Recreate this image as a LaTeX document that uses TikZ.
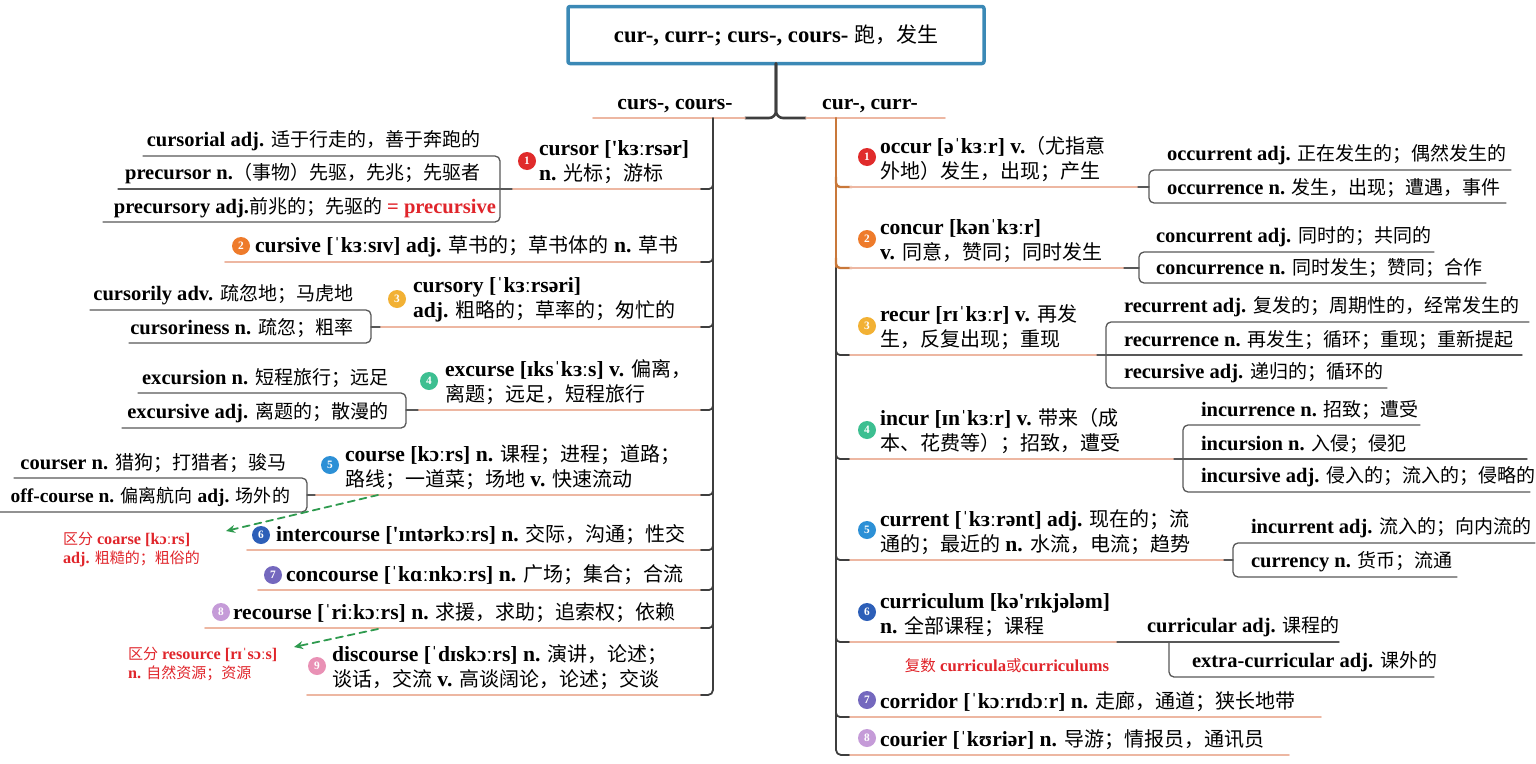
\documentclass[tikz,border=0pt]{standalone}
\usepackage{fontspec}
\setmainfont{Liberation Serif}[Scale=1.08, Ligatures=TeXOff]
\newfontfamily\cjkfont{Noto Sans CJK SC}
\usetikzlibrary{arrows.meta}

\definecolor{boxblue}{HTML}{3B89B6}
\definecolor{spinegray}{HTML}{3E3E3E}
\definecolor{subgray}{HTML}{585858}
\definecolor{ulsalmon}{HTML}{EDB7A2}
\definecolor{spineorange}{HTML}{C9783A}
\definecolor{notered}{HTML}{E0252B}
\definecolor{arrowgreen}{HTML}{2E9A4E}
\definecolor{n1}{HTML}{E02B2B}
\definecolor{n2}{HTML}{EE7B2B}
\definecolor{n3}{HTML}{F2B134}
\definecolor{n4}{HTML}{3DBF91}
\definecolor{n5}{HTML}{2D90D6}
\definecolor{n6}{HTML}{2D5FB8}
\definecolor{n7}{HTML}{7468BE}
\definecolor{n8}{HTML}{C59BD8}
\definecolor{n9}{HTML}{E991B5}

% Chinese characters go to the CJK font, everything else stays bold serif
\newXeTeXintercharclass\cjkclass
\count255=0 \loop \XeTeXcharclass\count255=0 \ifnum\count255<"02FF \advance\count255 by 1 \repeat
\count255="3000 \loop \XeTeXcharclass\count255=\cjkclass \ifnum\count255<"303F \advance\count255 by 1 \repeat
\count255="4E00 \loop \XeTeXcharclass\count255=\cjkclass \ifnum\count255<"9FFF \advance\count255 by 1 \repeat
\count255="FF00 \loop \XeTeXcharclass\count255=\cjkclass \ifnum\count255<"FFEF \advance\count255 by 1 \repeat
\XeTeXinterchartoks 0 \cjkclass = {\cjkfont\mdseries}
\XeTeXinterchartoks 4095 \cjkclass = {\cjkfont\mdseries}
\XeTeXinterchartoks \cjkclass 0 = {\rmfamily\bfseries}
\XeTeXinterchartoks \cjkclass 4095 = {\rmfamily\bfseries}
\XeTeXinterchartokenstate=1

\begin{document}
\begin{tikzpicture}[x=1pt, y=-1pt, line cap=round, line join=round,
  every node/.style={inner sep=0pt, outer sep=0pt},
  titlebox/.style={draw=boxblue, line width=3.5pt, rounded corners=2pt, minimum width=416pt, minimum height=57pt, font=\fontsize{21}{25}\selectfont\bfseries},
  branch/.style={anchor=south, font=\fontsize{20}{24}\selectfont\bfseries},
  item/.style={anchor=south west, align=left, font=\fontsize{20}{25}\selectfont\bfseries},
  subl/.style={anchor=south east, font=\fontsize{19}{23}\selectfont\bfseries},
  subr/.style={anchor=south west, font=\fontsize{19}{23}\selectfont\bfseries},
  note/.style={align=left, text=notered, font=\fontsize{15}{19.5}\selectfont\bfseries},
  num/.style={circle, fill=#1, minimum size=18pt, text=white, font=\fontsize{10.5}{10.5}\selectfont\bfseries},
  spine/.style={draw=spinegray, line width=1.8pt},
  spineo/.style={draw=spineorange, line width=2.4pt},
  uline/.style={draw=ulsalmon, line width=1.6pt},
  subline/.style={draw=subgray, line width=1.3pt, rounded corners=5pt},
  hint/.style={draw=arrowgreen, line width=1.8pt, dash pattern=on 7pt off 5pt, -{Stealth[length=9pt,width=8pt]}},
]
  \useasboundingbox (0,0) rectangle (1536,763);

  % root and the two branches
  \node[titlebox] (title) at (776,35) {cur-, curr-; curs-, cours- 跑，发生};
  \node[branch] (lbranch) at (675,113) {curs-, cours-};
  \node[branch] (rbranch) at (870,113) {cur-, curr-};
  \coordinate (ljoin) at (745,118);
  \coordinate (rjoin) at (806,118);
  \draw[spine, line width=2.6pt, rounded corners=7pt] (title.south) -- (776,118) -- (ljoin);
  \draw[spine, line width=2.6pt, rounded corners=7pt] (title.south) -- (776,118) -- (rjoin);
  \draw[uline] (ljoin) -- (593,118);
  \draw[uline] (rjoin) -- (945,118);

  % ---------------- left side: curs-, cours- ----------------
  \draw[spine, rounded corners=5pt] (713,118) -- (713,695) -- (700,695);
  \foreach \y in {189,262,327,410,495,550,590,628}
    \draw[spine, rounded corners=4pt] (700,\y) -- (713,\y) -- (713,\y-10);

  % 1 cursor
  \node[num=n1] (l1) at (527,161) {1};
  \node[item] (cursor) at (539,184) {cursor ['kɜːrsər]\\n. 光标；游标};
  \draw[uline] (512,189) -- (700,189);
  \node[subl] (cursorial) at (480,151) {cursorial adj. 适于行走的，善于奔跑的};
  \node[subl] (precursor) at (480,184) {precursor n.（事物）先驱，先兆；先驱者};
  \node[subl] (precursory) at (496,218) {precursory adj.前兆的；先驱的 \textcolor{notered}{= precursive}};
  \draw[subline] (143,156) -- (500,156) -- (500,222) -- (103,222);
  \draw[subline] (118,189) -- (512,189);

  % 2 cursive
  \node[num=n2] (l2) at (241,246) {2};
  \node[item] (cursive) at (255,257) {cursive [ˈkɜːsɪv] adj. 草书的；草书体的 n. 草书};
  \draw[uline] (225,262) -- (700,262);

  % 3 cursory
  \node[num=n3] (l3) at (397,299) {3};
  \node[item] (cursory) at (413,322) {cursory [ˈkɜːrsəri]\\adj. 粗略的；草率的；匆忙的};
  \draw[uline] (380,327) -- (700,327);
  \node[subl] (cursorily) at (353,305) {cursorily adv. 疏忽地；马虎地};
  \node[subl] (cursoriness) at (353,338) {cursoriness n. 疏忽；粗率};
  \draw[subline] (90,310) -- (371,310) -- (371,343) -- (129,343);
  \draw[subline] (371,327) -- (380,327);

  % 4 excurse
  \node[num=n4] (l4) at (429,381) {4};
  \node[item] (excurse) at (445,405) {excurse [ɪksˈkɜːs] v. 偏离，\\离题；远足，短程旅行};
  \draw[uline] (418,410) -- (700,410);
  \node[subl] (excursion) at (388,388) {excursion n. 短程旅行；远足};
  \node[subl] (excursive) at (388,423) {excursive adj. 离题的；散漫的};
  \draw[subline] (138,393) -- (406,393) -- (406,428) -- (122,428);
  \draw[subline] (406,410) -- (418,410);

  % 5 course
  \node[num=n5] (l5) at (330,465) {5};
  \node[item] (course) at (345,490) {course [kɔːrs] n. 课程；进程；道路；\\路线；一道菜；场地 v. 快速流动};
  \draw[uline] (315,495) -- (700,495);
  \node[subl] (courser) at (286,473) {courser n. 猎狗；打猎者；骏马};
  \node[subl, font=\fontsize{18}{22}\selectfont\bfseries] (offcourse) at (290,507) {off-course n. 偏离航向 adj. 场外的};
  \draw[subline] (14,478) -- (307,478) -- (307,512) -- (0,512);
  \draw[subline] (307,495) -- (315,495);

  % 6 intercourse
  \node[num=n6] (l6) at (261,535) {6};
  \node[item] (intercourse) at (276,545) {intercourse ['ɪntərkɔːrs] n. 交际，沟通；性交};
  \draw[uline] (247,550) -- (700,550);
  \node[note, anchor=north west] (coarse) at (63,532) {区分 coarse [kɔːrs]\\adj. 粗糙的；粗俗的};
  \coordinate (h1s) at (378,495);
  \coordinate (h1e) at (226,531);
  \draw[hint] (h1s) -- (h1e);

  % 7 concourse
  \node[num=n7] (l7) at (273,575) {7};
  \node[item] (concourse) at (286,585) {concourse [ˈkɑːnkɔːrs] n. 广场；集合；合流};
  \draw[uline] (258,590) -- (700,590);

  % 8 recourse
  \node[num=n8] (l8) at (221,612) {8};
  \node[item] (recourse) at (233,623) {recourse [ˈriːkɔːrs] n. 求援，求助；追索权；依赖};
  \draw[uline] (205,628) -- (700,628);
  \node[note, anchor=north west] (resource) at (128,647) {区分 resource [rɪˈsɔːs]\\n. 自然资源；资源};
  \coordinate (h2s) at (378,629);
  \coordinate (h2e) at (294,647);
  \draw[hint] (h2s) -- (h2e);

  % 9 discourse
  \node[num=n9] (l9) at (317,666) {9};
  \node[item] (discourse) at (332,690) {discourse [ˈdɪskɔːrs] n. 演讲，论述；\\谈话，交流 v. 高谈阔论，论述；交谈};
  \draw[uline] (307,695) -- (700,695);

  % ---------------- right side: cur-, curr- ----------------
  \draw[spineo] (836,118) -- (836,268);
  \draw[spine, rounded corners=5pt] (836,268) -- (836,755) -- (850,755);
  \foreach \y in {187,268}
    \draw[spineo, rounded corners=4pt] (836,\y-10) -- (836,\y) -- (852,\y);
  \foreach \y in {355,459,560,642,717}
    \draw[spine, rounded corners=4pt] (836,\y-10) -- (836,\y) -- (850,\y);

  % 1 occur
  \node[num=n1] (r1) at (867,157) {1};
  \node[item] (occur) at (880,182) {occur [əˈkɜːr] v.（尤指意\\外地）发生，出现；产生};
  \draw[uline] (850,187) -- (1138,187);
  \node[subr] (occurrent) at (1167,165) {occurrent adj. 正在发生的；偶然发生的};
  \node[subr] (occurrence) at (1167,198) {occurrence n. 发生，出现；遭遇，事件};
  \draw[subline] (1511,170) -- (1149,170) -- (1149,203) -- (1506,203);
  \draw[subline] (1138,187) -- (1149,187);

  % 2 concur
  \node[num=n2] (r2) at (867,239) {2};
  \node[item] (concur) at (880,263) {concur [kənˈkɜːr]\\v. 同意，赞同；同时发生};
  \draw[uline] (850,268) -- (1124,268);
  \node[subr] (concurrent) at (1156,247) {concurrent adj. 同时的；共同的};
  \node[subr] (concurrence) at (1156,278) {concurrence n. 同时发生；赞同；合作};
  \draw[subline] (1434,252) -- (1139,252) -- (1139,283) -- (1486,283);
  \draw[subline] (1124,268) -- (1139,268);

  % 3 recur
  \node[num=n3] (r3) at (867,326) {3};
  \node[item] (recur) at (880,350) {recur [rɪˈkɜːr] v. 再发\\生，反复出现；重现};
  \draw[uline] (850,355) -- (1097,355);
  \node[subr] (recurrent) at (1124,317) {recurrent adj. 复发的；周期性的，经常发生的};
  \node[subr] (recurrence) at (1124,350) {recurrence n. 再发生；循环；重现；重新提起};
  \node[subr] (recursive) at (1124,383) {recursive adj. 递归的；循环的};
  \draw[subline] (1529,322) -- (1106,322) -- (1106,388) -- (1387,388);
  \draw[subline] (1097,355) -- (1522,355);

  % 4 incur
  \node[num=n4] (r4) at (867,430) {4};
  \node[item] (incur) at (880,454) {incur [ɪnˈkɜːr] v. 带来（成\\本、花费等）；招致，遭受};
  \draw[uline] (850,459) -- (1174,459);
  \node[subr] (incurrence) at (1201,420) {incurrence n. 招致；遭受};
  \node[subr] (incursion) at (1201,454) {incursion n. 入侵；侵犯};
  \node[subr] (incursive) at (1201,487) {incursive adj. 侵入的；流入的；侵略的};
  \draw[subline] (1420,425) -- (1183,425) -- (1183,492) -- (1530,492);
  \draw[subline] (1174,459) -- (1527,459);

  % 5 current
  \node[num=n5] (r5) at (867,530) {5};
  \node[item] (current) at (880,555) {current [ˈkɜːrənt] adj. 现在的；流\\通的；最近的 n. 水流，电流；趋势};
  \draw[uline] (850,560) -- (1224,560);
  \node[subr] (incurrent) at (1251,538) {incurrent adj. 流入的；向内流的};
  \node[subr] (currency) at (1251,572) {currency n. 货币；流通};
  \draw[subline] (1535,543) -- (1233,543) -- (1233,577) -- (1457,577);
  \draw[subline] (1224,560) -- (1233,560);

  % 6 curriculum
  \node[num=n6] (r6) at (867,612) {6};
  \node[item] (curriculum) at (880,637) {curriculum [kə'rɪkjələm]\\n. 全部课程；课程};
  \draw[uline] (850,642) -- (1117,642);
  \node[subr] (curricular) at (1147,637) {curricular adj. 课程的};
  \node[subr] (extracurricular) at (1192,672) {extra-curricular adj. 课外的};
  \draw[subline] (1117,642) -- (1339,642);
  \draw[subline] (1169,642) -- (1169,677) -- (1434,677);
  \node[note, font=\fontsize{15.5}{19}\selectfont\bfseries] (plural) at (1007,666) {复数 curricula或curriculums};

  % 7 corridor
  \node[num=n7] (r7) at (867,700) {7};
  \node[item] (corridor) at (880,712) {corridor [ˈkɔːrɪdɔːr] n. 走廊，通道；狭长地带};
  \draw[uline] (850,717) -- (1321,717);

  % 8 courier
  \node[num=n8] (r8) at (867,738) {8};
  \node[item] (courier) at (880,750) {courier [ˈkʊriər] n. 导游；情报员，通讯员};
  \draw[uline] (850,755) -- (1289,755);
\end{tikzpicture}
\end{document}
